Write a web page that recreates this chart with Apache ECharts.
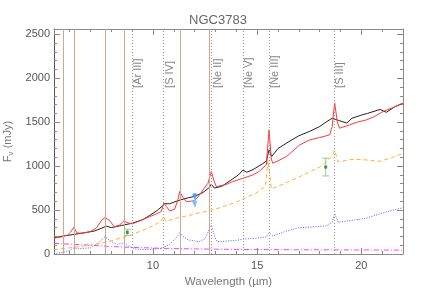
<!DOCTYPE html>
<html><head><meta charset="utf-8">
<script src="https://cdn.jsdelivr.net/npm/echarts@6/dist/echarts.min.js"></script>
<style>html,body{margin:0;padding:0;background:#fff}#c{width:436px;height:291px}</style>
</head><body><div id="c"></div>
<script>
// ---- data (wavelength in micron, flux in mJy) ----
const observed = [[5.25,185],[5.7,205],[6.2,222],[6.6,238],[7.2,262],[7.6,300],[7.75,318],[8.0,300],[8.5,325],[9.0,350],[9.5,390],[9.85,440],[10.2,495],[10.45,545],[10.55,572],[10.8,572],[11.3,615],[11.7,640],[12.0,655],[12.4,700],[12.72,760],[12.8,795],[12.95,750],[13.3,770],[13.8,850],[14.1,900],[14.32,955],[14.5,930],[14.8,960],[15.28,1030],[15.45,1060],[15.57,1185],[15.7,1110],[16.0,1200],[16.5,1275],[17.0,1345],[17.5,1393],[18.0,1450],[18.3,1500],[18.6,1545],[18.9,1520],[19.3,1490],[19.55,1545],[20.0,1580],[20.3,1600],[20.9,1645],[21.2,1612],[21.6,1675],[22.0,1715]];
const model = [[5.25,180],[5.6,195],[5.9,215],[6.05,250],[6.2,304],[6.35,240],[6.6,235],[7.0,254],[7.3,300],[7.55,390],[7.7,414],[7.9,385],[8.15,310],[8.4,330],[8.6,376],[8.8,355],[9.0,342],[9.4,380],[9.84,425],[10.2,460],[10.4,485],[10.52,577],[10.65,540],[10.8,490],[11.04,509],[11.2,620],[11.28,710],[11.45,640],[11.6,596],[11.8,600],[12.0,607],[12.2,660],[12.4,729],[12.64,805],[12.8,940],[12.92,840],[13.04,767],[13.5,790],[13.83,824],[14.3,860],[14.8,900],[15.1,940],[15.44,1014],[15.57,1412],[15.68,1080],[15.75,1033],[16.0,1060],[16.4,1108],[16.8,1190],[17.04,1241],[17.52,1298],[18.0,1325],[18.48,1355],[18.6,1450],[18.72,1720],[18.85,1500],[18.96,1431],[19.44,1469],[19.8,1500],[20.24,1526],[20.6,1560],[21.04,1621],[21.5,1665],[22.0,1716]];
const hotDust = [[5.25,50],[6.0,70],[7.0,100],[8.0,150],[9.0,220],[10.0,320],[10.4,375],[10.5,430],[10.62,370],[11.0,400],[12.0,455],[13.0,510],[14.0,590],[15.0,700],[15.4,770],[15.52,1070],[15.68,740],[16.0,770],[17.0,875],[18.0,990],[18.6,1110],[18.72,1180],[18.88,1050],[19.5,1075],[20.0,1075],[20.9,1055],[21.5,1100],[22.0,1140]];
const pahComp = [[5.25,5],[5.7,20],[6.0,40],[6.2,70],[6.4,60],[7.0,70],[7.4,130],[7.7,195],[8.0,140],[8.3,110],[8.6,125],[8.9,80],[9.2,55],[9.8,50],[10.4,65],[10.5,75],[10.8,110],[11.1,180],[11.28,236],[11.5,190],[11.7,160],[12.2,140],[12.5,175],[12.8,330],[13.0,170],[13.1,140],[14.0,155],[14.32,170],[15.0,180],[15.45,197],[15.57,243],[15.75,205],[16.4,260],[17.0,300],[17.5,305],[18.3,320],[18.6,360],[18.72,460],[18.9,360],[19.3,375],[20.2,405],[21.2,480],[22.0,527]];
const stellar = [[5.25,120],[6.0,112],[7.0,100],[8.0,85],[9.0,75],[10.0,68],[11.0,62],[12.0,58],[13.0,55],[14.0,52],[15.0,50],[15.5,50],[15.57,56],[15.7,50],[17.0,48],[19.0,47],[22.0,44]];
const pahLines = [5.7, 6.2, 7.7, 8.6, 11.3, 12.7];
const ionLines = [8.99, 10.51, 12.81, 14.32, 15.56, 18.71];
const ionNames = ['[Ar III]', '[S IV]', '[Ne II]', '[Ne V]', '[Ne III]', '[S III]'];
const ionLabelFlux = 1890;
const photometry = [[8.77, 247, 35], [18.29, 989, 101]];
const upperLimit = [12.0, 668];
const upperLimitEnd = 540;
const xMin = 5.25, xMax = 22, yMin = 0, yMax = 2560;

const FONT = 'Liberation Sans';
const axisGray = '#8a8a8a';
const chart = echarts.init(document.getElementById('c'), null, {renderer: 'canvas'});

function xAx(pos, split, len, main) {
  return {
    type: 'value', min: xMin, max: xMax, position: pos, splitNumber: split,
    axisLine: {show: main, onZero: false, lineStyle: {color: axisGray, width: 1}},
    axisTick: {show: true, inside: true, length: len, lineStyle: {color: axisGray}},
    axisLabel: {show: main && pos === 'bottom', showMinLabel: false, showMaxLabel: false, color: '#555', fontFamily: FONT, fontSize: 11, margin: 6,
      formatter: v => String(v)},
    splitLine: {show: false},
    name: (main && pos === 'bottom') ? 'Wavelength (\u00b5m)' : '',
    nameLocation: 'middle', nameGap: 19,
    nameTextStyle: {color: '#777', fontFamily: FONT, fontSize: 11.5}
  };
}
function yAx(pos, interval, len, main, lineColor) {
  return {
    type: 'value', min: yMin, max: yMax, interval: interval, position: pos,
    axisLine: {show: main, onZero: false, lineStyle: {color: lineColor || axisGray, width: 1}},
    axisTick: {show: true, inside: true, length: len, lineStyle: {color: axisGray}},
    axisLabel: {show: main && pos === 'left', showMaxLabel: false, color: '#555', fontFamily: FONT, fontSize: 11, margin: 4,
      formatter: v => String(v)},
    splitLine: {show: false},
    name: (main && pos === 'left') ? '{f|F}{s|\u03bd}{f| (mJy)}' : '',
    nameLocation: 'middle', nameGap: 36,
    nameTextStyle: {color: '#777', fontFamily: FONT, fontSize: 11,
      rich: {f: {color: '#777', fontFamily: FONT, fontSize: 11}, s: {color: '#777', fontFamily: FONT, fontSize: 8, verticalAlign: 'bottom', padding: [6, 0, 0, 0]}}}
  };
}

const option = {
  animation: false,
  backgroundColor: '#fff',
  title: {text: 'NGC3783', left: 'center', top: 9, textStyle: {color: '#666', fontFamily: FONT, fontSize: 13, fontWeight: 'normal'}},
  grid: {left: 54, right: 33, top: 29, bottom: 37, containLabel: false, outerBoundsMode: 'none'},
  xAxis: [xAx('bottom', 3, 6, true), xAx('bottom', 17, 3, false), xAx('top', 3, 6, true), xAx('top', 17, 3, false)],
  yAxis: [yAx('left', 500, 6, true, '#6e5040'), yAx('left', 100, 3, false), yAx('right', 500, 6, true), yAx('right', 100, 3, false)],
  series: [
    {type: 'line', name: 'lines', data: [], silent: true,
      markLine: {silent: true, symbol: ['none', 'none'], label: {show: false},
        data: pahLines.map(v => ({xAxis: v, lineStyle: {color: '#d2a68e', type: 'solid', width: 1}}))
          .concat(ionLines.map(v => ({xAxis: v, lineStyle: {color: '#9a9a9a', type: [1, 2], width: 1}})))}},
    {type: 'line', name: 'stellar', data: stellar, showSymbol: false, symbol: 'none',
      lineStyle: {color: '#ff3cff', width: 1, type: [5, 2, 1, 2]}},
    {type: 'line', name: 'pah', data: pahComp, showSymbol: false, symbol: 'none',
      lineStyle: {color: '#5a5aff', width: 1, type: [1, 1.5]}},
    {type: 'line', name: 'dust', data: hotDust, showSymbol: false, symbol: 'none',
      lineStyle: {color: '#ffb030', width: 1, type: [4, 3]}},
    {type: 'line', name: 'observed', data: observed, showSymbol: false, symbol: 'none',
      lineStyle: {color: '#222', width: 1}},
    {type: 'line', name: 'model', data: model, showSymbol: false, symbol: 'none',
      lineStyle: {color: '#ff3a3a', width: 1}},
    {type: 'custom', name: 'errors', data: photometry, z: 5,
      renderItem: function (params, api) {
        const x = api.value(0), y = api.value(1), e = api.value(2);
        const t = api.coord([x, y + e]), b = api.coord([x, y - e]);
        const w = 3.5, st = {stroke: '#8fd08f', lineWidth: 1};
        return {type: 'group', children: [
          {type: 'line', shape: {x1: t[0], y1: t[1], x2: b[0], y2: b[1]}, style: st},
          {type: 'line', shape: {x1: t[0] - w, y1: t[1], x2: t[0] + w, y2: t[1]}, style: st},
          {type: 'line', shape: {x1: b[0] - w, y1: b[1], x2: b[0] + w, y2: b[1]}, style: st}
        ]};
      }},
    {type: 'scatter', name: 'phot', data: photometry.map(p => [p[0], p[1]]), symbol: 'rect', symbolSize: 3, z: 6,
      itemStyle: {color: '#1d7a1d'}},
    {type: 'scatter', name: 'limit', data: [upperLimit], symbol: 'rect', symbolSize: 4, z: 6,
      itemStyle: {color: '#2f8fef'},
      markLine: {silent: true, symbol: ['none', 'arrow'], symbolSize: [5, 6], label: {show: false},
        lineStyle: {color: '#7ec0ff', type: 'solid', width: 2},
        data: [[{coord: upperLimit}, {coord: [upperLimit[0], upperLimitEnd]}]]}},
    {type: 'scatter', name: 'ionLabels', symbolSize: 0, silent: true,
      data: ionLines.map((v, i) => ({value: [v, ionLabelFlux], name: ionNames[i]})),
      label: {show: true, formatter: '{b}', rotate: 90, position: [6, 0], align: 'left', verticalAlign: 'middle',
        color: '#666', fontFamily: FONT, fontSize: 11}}
  ]
};
chart.setOption(option);
</script></body></html>
